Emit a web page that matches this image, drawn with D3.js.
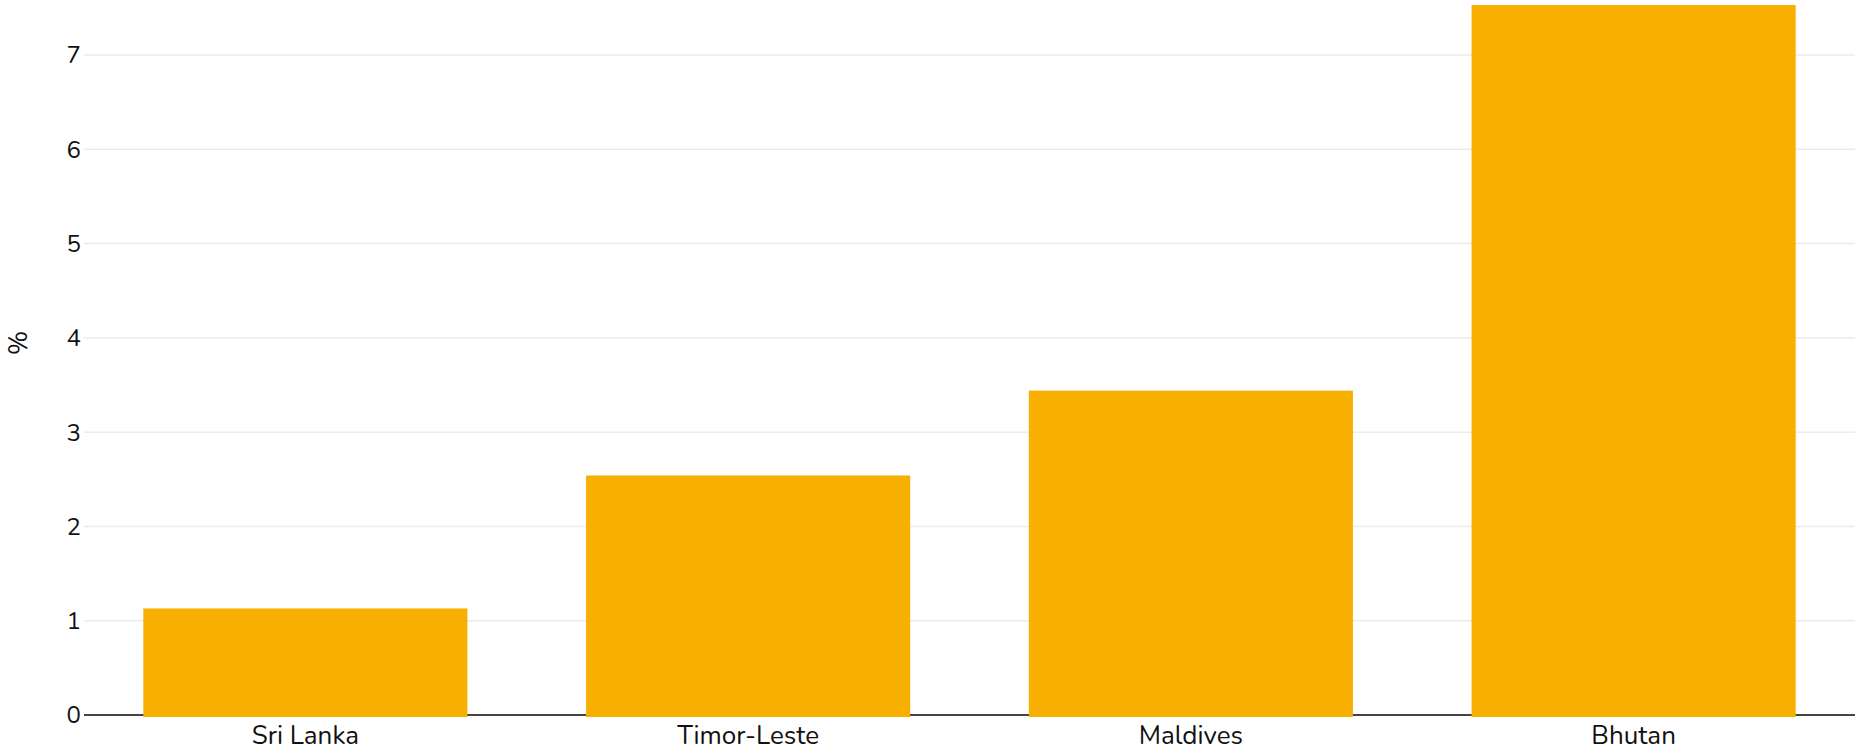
<!DOCTYPE html>
<html>
<head>
<meta charset="utf-8">
<script src="https://cdn.jsdelivr.net/npm/d3@7"></script>
<style>
  html, body { margin: 0; padding: 0; background: #fff; }
  svg text { font-family: "Nunito", "Open Sans", "Lato", sans-serif; fill: #111; }
</style>
</head>
<body>
<svg id="chart" width="1856" height="750"></svg>
<script>
const categories = ["Sri Lanka", "Timor-Leste", "Maldives", "Bhutan"];
const values = [1.13, 2.54, 3.44, 7.53];
const yTicks = [0, 1, 2, 3, 4, 5, 6, 7];
const yLabel = "%";

const svg = d3.select("#chart");
const plotLeft = 84, plotRight = 1855, plotTop = 5, plotBottom = 715;

const x = d3.scaleBand().domain(categories).range([plotLeft, plotRight]).paddingInner(0.268).paddingOuter(0.134);
const y = d3.scaleLinear().domain([0, 7.53]).range([plotBottom, plotTop]);

// gridlines
svg.append("g").selectAll("line").data(yTicks.filter(d => d > 0)).join("line")
  .attr("x1", plotLeft).attr("x2", plotRight)
  .attr("y1", d => y(d)).attr("y2", d => y(d))
  .attr("stroke", "#ebebeb").attr("stroke-width", 1.5);

// zero line
svg.append("line").attr("x1", plotLeft).attr("x2", plotRight)
  .attr("y1", y(0)).attr("y2", y(0))
  .attr("stroke", "#444").attr("stroke-width", 2);

// bars
svg.append("g").selectAll("rect").data(categories).join("rect")
  .attr("x", d => x(d))
  .attr("width", x.bandwidth())
  .attr("y", (d, i) => y(values[i]))
  .attr("height", (d, i) => y(0) - y(values[i]) + 2)
  .attr("fill", "#F7B001");

// y tick labels
svg.append("g").selectAll("text").data(yTicks).join("text")
  .attr("x", plotLeft - 3).attr("y", d => y(d))
  .attr("dy", "0.35em")
  .attr("text-anchor", "end")
  .attr("font-size", 24)
  .text(d => d);

// x labels
svg.append("g").selectAll("text").data(categories).join("text")
  .attr("x", d => x(d) + x.bandwidth() / 2)
  .attr("y", 744)
  .attr("text-anchor", "middle")
  .attr("font-size", 26)
  .text(d => d);

// y axis label
svg.append("text")
  .attr("transform", "translate(27,343) rotate(-90)")
  .attr("text-anchor", "middle")
  .attr("font-size", 26)
  .text(yLabel);
</script>
</body>
</html>
